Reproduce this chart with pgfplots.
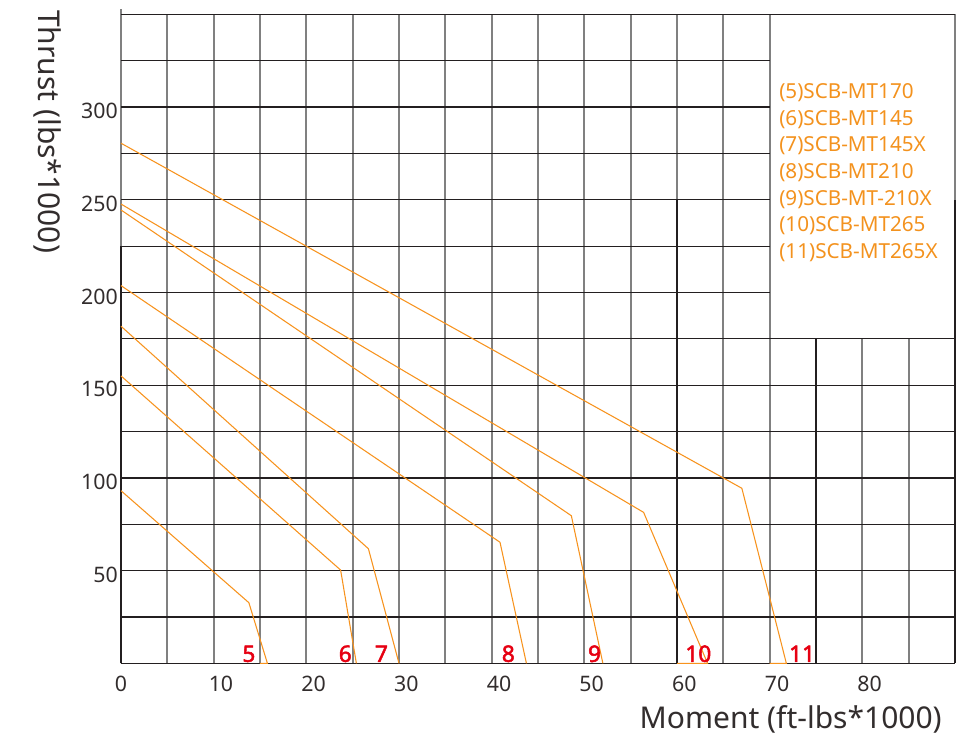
\documentclass[border=0pt]{standalone}
\usepackage{pgfplots}
\pgfplotsset{compat=1.18}
\usepackage{fontspec}
\setmainfont{Noto Sans}
\newfontfamily\numfont{Noto Sans}[FakeBold=2.2]
\definecolor{curve}{RGB}{247,147,30}
\definecolor{legtext}{RGB}{243,146,30}
\definecolor{numred}{RGB}{230,0,18}
\definecolor{gridv}{RGB}{128,128,128}
\definecolor{gridh}{RGB}{35,31,32}
\definecolor{txt}{RGB}{50,45,45}
\begin{document}
\begin{tikzpicture}
\path (-90.75pt,-56pt) rectangle (628.5pt,497.5pt);
\begin{axis}[
  scale only axis, width=625.5pt, height=486.75pt,
  xmin=0,xmax=90,ymin=0,ymax=350,
  axis x line*=bottom, axis y line*=left,
  axis line style={draw=none},
  major tick length=0pt,
  xtick={10,20,...,80},
  extra x ticks={0},
  extra x tick style={xticklabel style={xshift=-5.5pt}},
  ytick={50,100,...,300},
  tick label style={font=\fontsize{16}{19}\selectfont, text=txt},
  /pgf/number format/assume math mode=true,
  xticklabel style={inner sep=0pt, anchor=north, yshift=-9.5pt, xshift=5.5pt},
  yticklabel style={inner sep=0pt, anchor=east, xshift=-2.25pt, yshift=-3pt},
  clip=false,
]
% vertical grid lines
\draw[gridv, line width=1.3pt] (axis cs:0,0) -- (axis cs:0,353);
\pgfplotsinvokeforeach{5,10,...,70}{\draw[gridv, line width=1.3pt] (axis cs:#1,0) -- (axis cs:#1,350);}
\pgfplotsinvokeforeach{75,80,85}{\draw[gridv, line width=1.3pt] (axis cs:#1,0) -- (axis cs:#1,175);}
\draw[gridv, line width=1.3pt] (axis cs:90,0) -- (axis cs:90,350);
\draw[gridh, line width=1.1pt] (axis cs:0,0) -- (axis cs:0,225);
\draw[gridh, line width=1.1pt] (axis cs:60,0) -- (axis cs:60,250);
\draw[gridh, line width=1.1pt] (axis cs:75,0) -- (axis cs:75,175);
\draw[gridh, line width=1.1pt] (axis cs:90,0) -- (axis cs:90,250);
% horizontal grid lines
\pgfplotsinvokeforeach{0,25,...,175}{\draw[gridh, line width=0.9pt] (axis cs:0,#1) -- (axis cs:90,#1);}
\pgfplotsinvokeforeach{200,225,...,325}{\draw[gridh, line width=0.9pt] (axis cs:0,#1) -- (axis cs:70,#1);}
\draw[gridh, line width=0.9pt] (axis cs:0,350) -- (axis cs:90,350);
% curves
\addplot[curve, line width=0.8pt] coordinates {(0,93.1) (13.8,32.7) (15.8,0) (15.0,0)};
\addplot[curve, line width=0.8pt] coordinates {(0,155) (23.7,50.3) (25.4,0)};
\addplot[curve, line width=0.8pt] coordinates {(0,181.8) (26.7,61.8) (30.0,0)};
\addplot[curve, line width=0.8pt] coordinates {(0,203.7) (40.9,65.3) (43.75,0)};
\addplot[curve, line width=0.8pt] coordinates {(0,244.5) (48.6,79.6) (52.0,0)};
\addplot[curve, line width=0.8pt] coordinates {(0,247.7) (56.4,81.4) (63.3,0) (60,0)};
\addplot[curve, line width=0.8pt] coordinates {(0,280.5) (67.0,94.4) (71.8,0) (70,0)};
% red curve numbers
\foreach \xx/\lab in {13.8/5, 24.2/6, 28.1/7, 41.8/8, 51.1/9, 62.3/10, 73.5/11}{
  \edef\tmp{\noexpand\node[text=numred, font=\noexpand\numfont\noexpand\fontsize{17}{18}\noexpand\selectfont, anchor=base, inner sep=0pt] at (axis cs:\xx,0.8) {\lab};}\tmp
}
\end{axis}
\node[rotate=-90, anchor=base west, font=\fontsize{22.5}{26}\selectfont, text=txt, inner sep=0pt] at (-61.5pt,490pt) {Thrust (lbs*1000)};
\node[anchor=base east, font=\fontsize{22.5}{26}\selectfont, text=txt, inner sep=0pt] at (615.75pt,-48.5pt) {Moment (ft-lbs*1000)};
\begin{scope}[every node/.style={anchor=base west, inner sep=0pt, text=legtext, font=\fontsize{15.5}{18}\selectfont}]
\node at (493.5pt,423.75pt) {(5)SCB-MT170};
\node at (493.5pt,403.7pt) {(6)SCB-MT145};
\node at (493.5pt,383.7pt) {(7)SCB-MT145X};
\node at (493.5pt,363.75pt) {(8)SCB-MT210};
\node at (493.5pt,343.7pt) {(9)SCB-MT-210X};
\node at (493.5pt,323.7pt) {(10)SCB-MT265};
\node at (493.5pt,303.75pt) {(11)SCB-MT265X};
\end{scope}
\end{tikzpicture}
\end{document}
